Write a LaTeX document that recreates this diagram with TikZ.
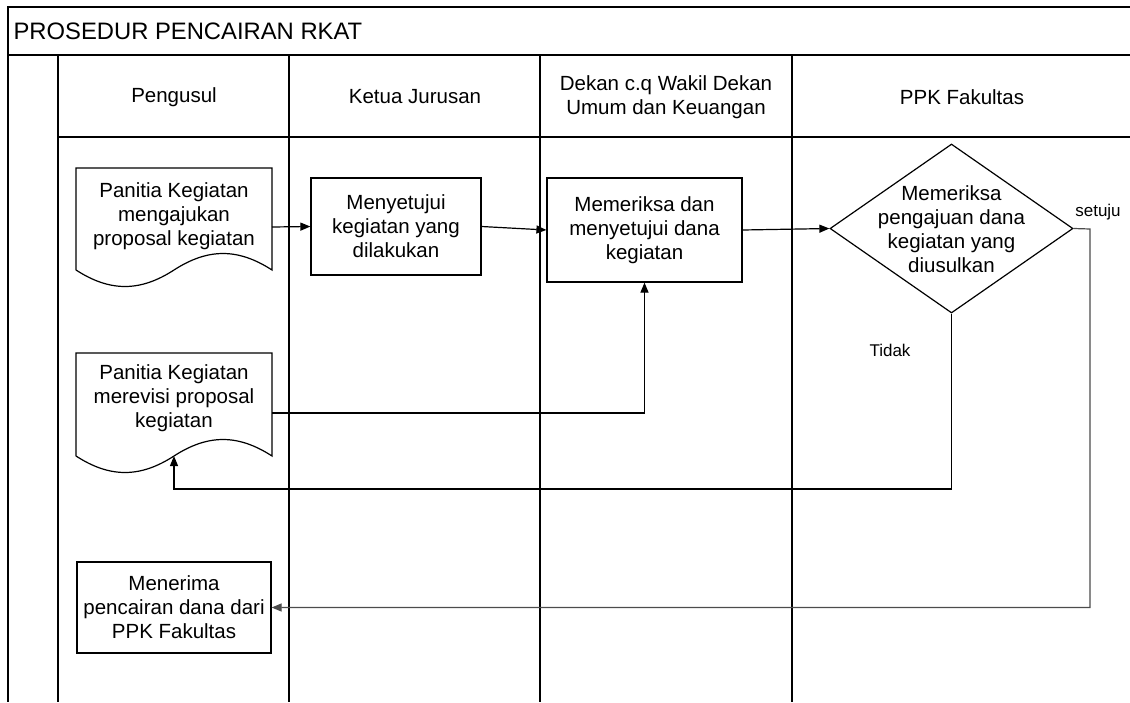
\documentclass[tikz,border=0pt]{standalone}
\usepackage{fontspec}
\setmainfont{Liberation Sans}
\usetikzlibrary{shapes.geometric,arrows.meta}
\begin{document}
\begin{tikzpicture}[x=0.5pt,y=-0.5pt,line width=0.6pt,
  txt/.style={align=center,font=\fontsize{10.25}{12}\selectfont,inner sep=0pt},
  small/.style={font=\fontsize{8.5}{10}\selectfont,inner sep=0pt},
  procbox/.style={draw,txt,minimum width=#1},
  arr/.style={-{Triangle[length=5pt,width=4pt]}},
  grayline/.style={draw=black!70}]
\useasboundingbox (0,0) rectangle (1130,702);
% frame
\draw (1130,7) -- (8,7) -- (8,702);
\draw (8,55) -- (1130,55);
\draw (58,55) -- (58,702);
\draw (58,137) -- (1130,137);
\draw (289,55) -- (289,702);
\draw (540,55) -- (540,702);
\draw (792,55) -- (792,702);
% title and headers
\node[font=\fontsize{11.9}{14}\selectfont,anchor=west,inner sep=0pt] (title) at (13,31) {PROSEDUR PENCAIRAN RKAT};
\node[txt] (h1) at (174,97) {Pengusul};
\node[txt] (h2) at (415,97) {Ketua Jurusan};
\node[txt] (h3) at (666,97) {Dekan c.q Wakil Dekan\\Umum dan Keuangan};
\node[txt] (h4) at (962,97) {PPK Fakultas};
% document 1
\draw (76,270) -- (76,168) -- (272,168) -- (272,270)
  .. controls (238,248) and (208,248) .. (174,270)
  .. controls (140,292) and (110,292) .. (76,270);
\node[txt] (d1) at (174,216) {Panitia Kegiatan\\mengajukan\\proposal kegiatan};
\coordinate (d1r) at (272,227);
% document 2
\draw (76,456) -- (76,353) -- (272,353) -- (272,456)
  .. controls (238,434) and (208,434) .. (174,456)
  .. controls (140,478) and (110,478) .. (76,456);
\node[txt] (d2) at (174,398) {Panitia Kegiatan\\merevisi proposal\\kegiatan};
\coordinate (d2r) at (272,413);
\coordinate (d2b) at (174,456);
% process boxes
\node[procbox=85pt,minimum height=48.5pt] (b2) at (396,226.5) {Menyetujui\\kegiatan yang\\dilakukan};
\node[procbox=97.5pt,minimum height=52pt] (b3) at (644.5,230) {Memeriksa dan\\menyetujui dana\\kegiatan};
\node[procbox=97pt,minimum height=45.5pt] (b4) at (174,607.5) {Menerima\\pencairan dana dari\\PPK Fakultas};
% decision
\node[diamond,draw,minimum width=121.5pt,minimum height=84.5pt,inner sep=0pt] (dia) at (951.5,228.5) {};
\node[txt] (diat) at (951.5,229) {Memeriksa\\pengajuan dana\\kegiatan yang\\diusulkan};
\node[small] (setuju) at (1098,212) {setuju};
\node[small] (tidak) at (890,350) {Tidak};
\coordinate (sr) at (1090,229);
\coordinate (tb) at (951.5,489);
% connectors
\draw[arr] (d1r) -- (b2.west);
\draw[arr] (b2.east) -- (b3.west);
\draw[arr] (b3.east) -- (dia.west);
\draw[arr] (d2r) -| (b3.south);
\draw[arr] (dia.south) -- (tb) -| (d2b);
\draw[arr,grayline] (dia.east) -- (sr) |- (b4.east);
\end{tikzpicture}
\end{document}
